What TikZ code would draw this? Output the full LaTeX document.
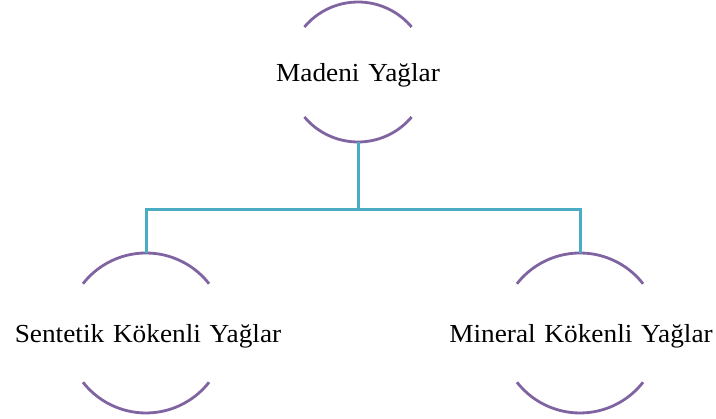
\documentclass[tikz,border=0pt]{standalone}
\usepackage{fontspec}
\setmainfont{Liberation Serif}
\definecolor{ringpurple}{HTML}{8064A2}
\definecolor{linkteal}{HTML}{4BACC6}
\protected\def\setwordgap{\spaceskip=0.32em\relax}
\newcommand\widetext[1]{\scalebox{1.05}[1]{#1}}
\tikzset{
  ringnode/.style={circle, draw=none, inner sep=0pt},
  ringarc/.style={draw=ringpurple, line width=2.8pt},
  link/.style={draw=linkteal, line width=3pt},
  labeltext/.style={anchor=base, inner sep=0pt, yshift=-9.5pt,
    font=\fontsize{26}{31}\selectfont\setwordgap}
}
\begin{document}
\begin{tikzpicture}[x=1pt,y=1pt]
\useasboundingbox (0,0) rectangle (716,419);
% nodes (rings)
\node[ringnode, minimum size=140pt] (top) at (358,347) {};
\node[ringnode, minimum size=160pt] (left) at (146,86) {};
\node[ringnode, minimum size=160pt] (right) at (580,86) {};
% arcs
\draw[ringarc] ([shift={(140:70)}]top.center) arc[start angle=140, end angle=40, radius=70];
\draw[ringarc] ([shift={(220:70)}]top.center) arc[start angle=220, end angle=320, radius=70];
\draw[ringarc] ([shift={(142:80)}]left.center) arc[start angle=142, end angle=38, radius=80];
\draw[ringarc] ([shift={(218:80)}]left.center) arc[start angle=218, end angle=322, radius=80];
\draw[ringarc] ([shift={(142:80)}]right.center) arc[start angle=142, end angle=38, radius=80];
\draw[ringarc] ([shift={(218:80)}]right.center) arc[start angle=218, end angle=322, radius=80];
% texts
\node[labeltext] (toptext) at (top.center) {\widetext{Madeni Yağlar}};
\node[labeltext] (lefttext) at ([xshift=2pt]left.center) {\widetext{Sentetik Kökenli Yağlar}};
\node[labeltext] (righttext) at ([xshift=1pt]right.center) {\widetext{Mineral Kökenli Yağlar}};
% connectors
\draw[link] (top.south) -- ++(0,-67) -| (left.north);
\draw[link] (top.south) -- ++(0,-67) -| (right.north);
\end{tikzpicture}
\end{document}
